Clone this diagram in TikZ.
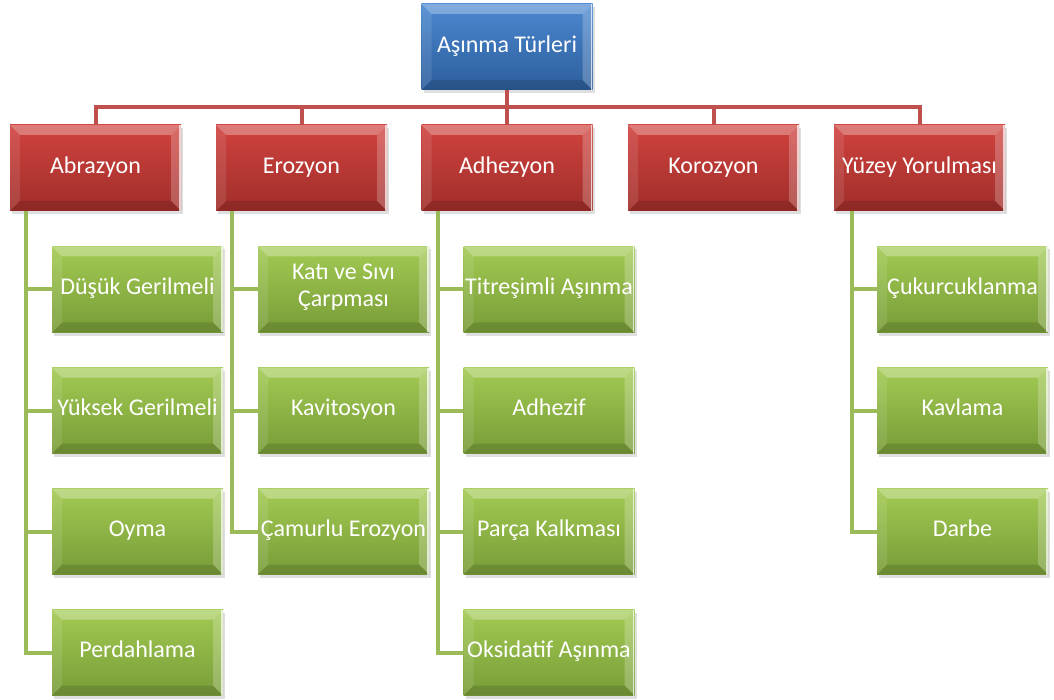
\documentclass[tikz,border=0pt]{standalone}
\usepackage{fontspec}
\setmainfont{Carlito}
\usetikzlibrary{shadows}

\definecolor{kokust}{RGB}{76,136,208}
\definecolor{kokalt}{RGB}{44,94,156}
\definecolor{turust}{RGB}{208,66,62}
\definecolor{turalt}{RGB}{160,46,42}
\definecolor{altust}{RGB}{162,202,82}
\definecolor{altalt}{RGB}{120,156,56}
\definecolor{hatkirmizi}{RGB}{192,80,77}
\definecolor{hatyesil}{RGB}{155,187,89}

\tikzset{
	kutu/.style={rectangle, minimum width=171pt, minimum height=86pt, inner sep=0pt,
		text=white, align=center, font=\fontsize{24}{27}\selectfont,
		execute at begin node=\strut,
		drop shadow={opacity=0.25, shadow xshift=2pt, shadow yshift=-3pt},
		path picture={
			\coordinate (nw) at (path picture bounding box.north west);
			\coordinate (ne) at (path picture bounding box.north east);
			\coordinate (sw) at (path picture bounding box.south west);
			\coordinate (se) at (path picture bounding box.south east);
			\fill [white, opacity=0.30] (nw) -- (ne) -- ([xshift=-10pt,yshift=-10pt]ne) -- ([xshift=10pt,yshift=-10pt]nw) -- cycle;
			\fill [white, opacity=0.10] (nw) -- (sw) -- ([xshift=10pt,yshift=10pt]sw) -- ([xshift=10pt,yshift=-10pt]nw) -- cycle;
			\fill [white, opacity=0.22] (ne) -- (se) -- ([xshift=-10pt,yshift=10pt]se) -- ([xshift=-10pt,yshift=-10pt]ne) -- cycle;
			\fill [black, opacity=0.12] (sw) -- (se) -- ([xshift=-10pt,yshift=10pt]se) -- ([xshift=10pt,yshift=10pt]sw) -- cycle;
			\draw [white, opacity=0.7, line width=1.5pt] ([xshift=-1pt]ne) -- ([xshift=-1pt]se);
		}},
	kokkutu/.style={kutu, top color=kokust, bottom color=kokalt},
	turkutu/.style={kutu, top color=turust, bottom color=turalt},
	altkutu/.style={kutu, top color=altust, bottom color=altalt},
	kirmizihat/.style={draw=hatkirmizi, line width=4pt},
	yesilhat/.style={draw=hatyesil, line width=4pt}
}

\begin{document}
\begin{tikzpicture}[x=1pt, y=-1pt]
	\useasboundingbox ( 0, 0 ) rectangle ( 1054, 700 );

	% baglantilar
	\coordinate (hat) at ( 507, 107 );
	\node [kokkutu] (kok) at ( 507, 47 ) {Aşınma Türleri};

	% ana turler
	\node [turkutu] (abr) at ( 95.5, 168 ) {Abrazyon};
	\node [turkutu] (ero) at ( 301.5, 168 ) {Erozyon};
	\node [turkutu] (adh) at ( 507, 168 ) {Adhezyon};
	\node [turkutu] (kor) at ( 713.5, 168 ) {Korozyon};
	\node [turkutu] (yuz) at ( 919.5, 168 ) {Yüzey Yorulması};

	\foreach \t in {abr, ero, adh, kor, yuz}
		\draw [kirmizihat] (kok.south) -- (kok.south |- hat) -| (\t.north);

	% Abrazyon
	\node [altkutu] (dusuk) at ( 137.5, 289.5 ) {Düşük Gerilmeli};
	\node [altkutu] (yuksek) at ( 137.5, 410.5 ) {Yüksek Gerilmeli};
	\node [altkutu] (oyma) at ( 137.5, 531.5 ) {Oyma};
	\node [altkutu] (perdah) at ( 137.5, 652.5 ) {Perdahlama};

	% Erozyon
	\node [altkutu] (katisivi) at ( 343.5, 289.5 ) {Katı ve Sıvı\\Çarpması};
	\node [altkutu] (kavit) at ( 343.5, 410.5 ) {Kavitosyon};
	\node [altkutu] (camur) at ( 343.5, 531.5 ) {Çamurlu Erozyon};

	% Adhezyon
	\node [altkutu] (titres) at ( 549, 289.5 ) {Titreşimli Aşınma};
	\node [altkutu] (adhezif) at ( 549, 410.5 ) {Adhezif};
	\node [altkutu] (parca) at ( 549, 531.5 ) {Parça Kalkması};
	\node [altkutu] (oksit) at ( 549, 652.5 ) {Oksidatif Aşınma};

	% Yuzey Yorulmasi
	\node [altkutu] (cukur) at ( 962.5, 289.5 ) {Çukurcuklanma};
	\node [altkutu] (kavlama) at ( 962.5, 410.5 ) {Kavlama};
	\node [altkutu] (darbe) at ( 962.5, 531.5 ) {Darbe};

	\foreach \c in {dusuk, yuksek, oyma, perdah}
		\draw [yesilhat] ([xshift=16pt]abr.south west) |- (\c.west);
	\foreach \c in {katisivi, kavit, camur}
		\draw [yesilhat] ([xshift=16pt]ero.south west) |- (\c.west);
	\foreach \c in {titres, adhezif, parca, oksit}
		\draw [yesilhat] ([xshift=17pt]adh.south west) |- (\c.west);
	\foreach \c in {cukur, kavlama, darbe}
		\draw [yesilhat] ([xshift=18pt]yuz.south west) |- (\c.west);
\end{tikzpicture}
\end{document}
